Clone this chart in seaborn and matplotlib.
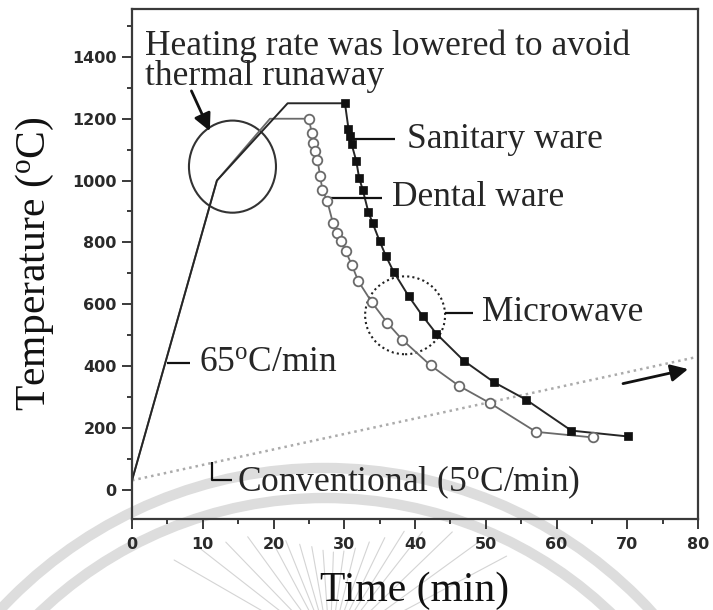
import numpy as np
import pandas as pd
import matplotlib
matplotlib.use("Agg")
import matplotlib.pyplot as plt
from matplotlib.patches import Ellipse, Circle
from matplotlib.ticker import MultipleLocator
import seaborn as sns

# ---- firing schedules (time in min, temperature in degC) ----
# microwave firing of sanitary ware: heating / hold, then cooling points
san_heat_time = [0, 12, 22]
san_heat_temp = [30, 1000, 1250]
san_cool_time = [30.1, 30.6, 30.8, 31.05, 31.7, 32.1, 32.6, 33.4, 34.0, 35.0,
                 35.9, 37.0, 39.1, 41.1, 43.0, 46.9, 51.2, 55.7, 62.1, 70.1]
san_cool_temp = [1250, 1167, 1144, 1117, 1063, 1009, 971, 899, 863, 804,
                 755, 704, 626, 561, 505, 417, 347, 291, 191, 172]

# microwave firing of dental ware
den_heat_time = [0, 12, 19.5]
den_heat_temp = [30, 1000, 1200]
den_cool_time = [25.0, 25.4, 25.6, 25.9, 26.2, 26.6, 26.9, 27.6, 28.4, 29.0, 29.6,
                 30.2, 31.05, 32.0, 33.9, 36.1, 38.2, 42.2, 46.2, 50.6, 57.1, 65.1]
den_cool_temp = [1200, 1155, 1122, 1095, 1068, 1014, 971, 933, 863, 831, 804,
                 771, 728, 674, 606, 539, 485, 402, 336, 280, 187, 169]

# conventional kiln at 5 degC/min
conv_time = [0, 80]
conv_temp = [30, 430]

x_ticks = [0, 10, 20, 30, 40, 50, 60, 70, 80]
y_ticks = [0, 200, 400, 600, 800, 1000, 1200, 1400]

san = pd.DataFrame({"time": san_heat_time + san_cool_time,
                    "temp": san_heat_temp + san_cool_temp})
den = pd.DataFrame({"time": den_heat_time + den_cool_time,
                    "temp": den_heat_temp + den_cool_temp})
san_pts = pd.DataFrame({"time": san_cool_time, "temp": san_cool_temp})
den_pts = pd.DataFrame({"time": den_cool_time, "temp": den_cool_temp})
conv = pd.DataFrame({"time": conv_time, "temp": conv_temp})

sns.set_theme(style="ticks")
plt.rcParams.update({
    "font.family": ["Liberation Serif", "DejaVu Serif"],
    "mathtext.fontset": "custom",
    "mathtext.rm": "Liberation Serif",
    "mathtext.it": "Liberation Serif:italic",
    "figure.facecolor": "white",
})

fig = plt.figure(figsize=(7.13, 6.10), dpi=100)

# faint seal in the background
bg = fig.add_axes([0, 0, 1, 1], zorder=-1)
bg.set_xlim(0, 713)
bg.set_ylim(610, 0)
bg.axis("off")
for r in (443, 413):
    bg.add_patch(Circle((325, 911), r, fill=False, lw=7.5, ec="#dddddd"))
ray_angles = [28, 36, 44, 52, 58, 64, 70, 76, 82, 88, 94, 100, 106, 112, 118, 126, 134, 142, 150]
ray_lengths = [200, 185, 170, 150, 140, 125, 115, 105, 100, 98, 100, 105, 110, 118, 125, 140, 150, 165, 180]
for a, L in zip(ray_angles, ray_lengths):
    t = np.deg2rad(a)
    bg.plot([330 + 40 * np.cos(t), 330 + L * np.cos(t)],
            [650 - 40 * np.sin(t), 650 - L * np.sin(t)],
            color="#d4d4d4", lw=0.8)

ax = fig.add_axes([132 / 713, 1 - 519 / 610, (698 - 132) / 713, (519 - 9) / 610])
ax.set_facecolor("none")

sns.lineplot(data=conv, x="time", y="temp", ax=ax, color="#ababab", lw=1.8,
             linestyle=(0, (1, 1.6)), sort=False, estimator=None)
sns.lineplot(data=den, x="time", y="temp", ax=ax, color="#6a6a6a", lw=1.3,
             sort=False, estimator=None)
sns.lineplot(data=san, x="time", y="temp", ax=ax, color="#262626", lw=1.4,
             sort=False, estimator=None)
sns.scatterplot(data=den_pts, x="time", y="temp", ax=ax, marker="o", s=48,
                facecolor="white", edgecolor="#6a6a6a", linewidth=1.3, zorder=4)
sns.scatterplot(data=san_pts, x="time", y="temp", ax=ax, marker="s", s=34,
                color="#111111", edgecolor="#111111", linewidth=0.5, zorder=5)

# highlighted regions
ax.add_patch(Ellipse((14.2, 1045), 12.3, 298, fill=False, lw=1.5, ec="#333333"))
ax.add_patch(Ellipse((38.6, 564), 11.3, 252, fill=False, lw=1.5, ec="#222222",
                     linestyle=(0, (1, 1.5))))

# annotations with leader lines
fs = 25.5
lead = dict(color="#111111", lw=1.6, solid_capstyle="butt")
ax.plot([31.2, 37.2], [1133, 1133], **lead)
ax.text(38.8, 1133, "Sanitary ware", fontsize=fs, va="center", ha="left")
ax.plot([27.3, 35.3], [945, 945], **lead)
ax.text(36.8, 945, "Dental ware", fontsize=fs, va="center", ha="left")
ax.plot([44.2, 48.2], [573, 573], **lead)
ax.text(49.5, 573, "Microwave", fontsize=fs, va="center", ha="left")
ax.plot([4.9, 8.2], [411, 411], **lead)
ax.text(9.5, 411, r"65$^{\mathrm{o}}$C/min", fontsize=fs, va="center", ha="left")
ax.plot([11.3, 11.3, 14.1], [91, 32, 32], **lead)
ax.text(14.9, 23, r"Conventional (5$^{\mathrm{o}}$C/min)", fontsize=fs,
        va="center", ha="left")
ax.text(1.9, 1488, "Heating rate was lowered to avoid\nthermal runaway",
        fontsize=fs, va="top", ha="left", linespacing=0.88)

arrow = dict(arrowstyle="-|>", color="#111111", lw=2.0, mutation_scale=26,
             shrinkA=0, shrinkB=0)
ax.annotate("", xy=(11.0, 1160), xytext=(8.4, 1290), arrowprops=arrow)
ax.annotate("", xy=(78.6, 390), xytext=(69.4, 343), arrowprops=arrow)

# axes, ticks and labels
ax.set_xlim(0, 80)
ax.set_ylim(-95, 1555)
ax.set_xticks(x_ticks)
ax.set_yticks(y_ticks)
ax.xaxis.set_minor_locator(MultipleLocator(5))
ax.yaxis.set_minor_locator(MultipleLocator(100))
ax.tick_params(which="major", direction="out", length=7, width=1.4,
               color="#3a3a3a", labelsize=11.5, labelcolor="#2a2a2a", pad=4)
ax.tick_params(axis="x", which="major", pad=6)
ax.tick_params(which="minor", direction="out", length=3.5, width=1.4,
               color="#3a3a3a")
ax.tick_params(top=False, right=False, which="both")
for lbl in ax.get_xticklabels() + ax.get_yticklabels():
    lbl.set_fontfamily("DejaVu Sans")
    lbl.set_fontweight("bold")
for sp in ax.spines.values():
    sp.set_visible(True)
    sp.set_color("#3a3a3a")
    sp.set_linewidth(1.6)

ax.set_xlabel("Time (min)", fontsize=30, labelpad=14, color="#111111")
ax.set_ylabel(r"Temperature ($^{\mathrm{o}}$C)", fontsize=30, labelpad=12,
              color="#111111")

fig.savefig("out.png", dpi=100, facecolor="white")
